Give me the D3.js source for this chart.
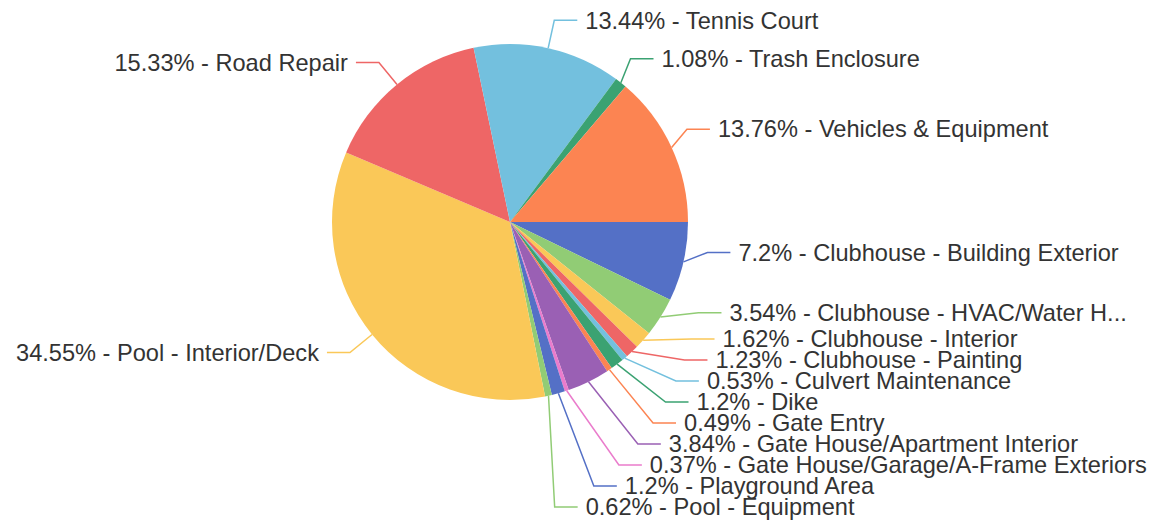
<!DOCTYPE html>
<html>
<head>
<meta charset="utf-8">
<script src="https://cdn.jsdelivr.net/npm/d3@7"></script>
<style>
  html, body { margin: 0; background: #fff; }
  svg { display: block; }
</style>
</head>
<body>
<div id="chart"></div>
<script>
var width = 1165;
var height = 523;

// budget share per category (percent)
const categories = [
    "Clubhouse - Building Exterior",
    "Clubhouse - HVAC/Water Heater",
    "Clubhouse - Interior",
    "Clubhouse - Painting",
    "Culvert Maintenance",
    "Dike",
    "Gate Entry",
    "Gate House/Apartment Interior",
    "Gate House/Garage/A-Frame Exteriors",
    "Playground Area",
    "Pool - Equipment",
    "Pool - Interior/Deck",
    "Road Repair",
    "Tennis Court",
    "Trash Enclosure",
    "Vehicles & Equipment"
];
const values = [7.2, 3.54, 1.62, 1.23, 0.53, 1.2, 0.49, 3.84, 0.37, 1.2, 0.62, 34.55, 15.33, 13.44, 1.08, 13.76];
const palette = ["#5470c6", "#91cc75", "#fac858", "#ee6666", "#73c0de", "#3ba272", "#fc8452", "#9a60b4", "#ea7ccc"];

const cx = 510, cy = 222, radius = 178;
const len1 = 28.5, len2 = 23, labelDist = 8, lineH = 21, bleed = 5;
const font = "23.6px 'Liberation Sans', Arial, sans-serif";

const data = categories.map((c, i) => ({name: c, value: values[i], color: palette[i % palette.length]}));
const total = d3.sum(values);

const pie = d3.pie()
    .sort(null)
    .value(d => d.value)
    .startAngle(Math.PI / 2)
    .endAngle(Math.PI / 2 + 2 * Math.PI);

const arc = d3.arc().innerRadius(0).outerRadius(radius);
const arcs = pie(data);

const svg = d3.select("#chart")
    .append("svg")
    .attr("width", width)
    .attr("height", height);

const g = svg.append("g").attr("transform", `translate(${cx},${cy})`);

g.selectAll("path.slice")
    .data(arcs)
    .join("path")
    .attr("class", "slice")
    .attr("d", arc)
    .attr("fill", d => d.data.color);

// measure with a hidden svg text so widths match what is drawn
const probe = svg.append("text")
    .style("font", font)
    .attr("visibility", "hidden");
const measure = t => probe.text(t).node().getComputedTextLength();

// initial label positions
const items = arcs.map(a => {
    const mid = (a.startAngle + a.endAngle) / 2;
    const sx = Math.sin(mid), sy = -Math.cos(mid);
    const dir = sx < 0 ? -1 : 1;
    const R = radius + len1;
    const x2 = cx + sx * R;
    const y2 = cy + sy * R;
    const pct = +(a.data.value / total * 100).toFixed(2);
    return {
        d: a,
        dir: dir,
        x1: cx + sx * radius,
        y1: cy + sy * radius,
        labelX: x2 + dir * (len2 + labelDist),
        y: y2,
        rectY: y2 - lineH / 2,
        text: `${pct}% - ${a.data.name}`
    };
});

function shiftLayout(list, minBound, maxBound) {
    const n = list.length;
    if (n < 2) return false;
    list.sort((a, b) => a.rectY - b.rectY);
    let lastPos = 0, adjusted = false;
    list.forEach(item => {
        const delta = item.rectY - lastPos;
        if (delta < 0) { item.rectY -= delta; adjusted = true; }
        lastPos = item.rectY + lineH;
    });
    const first = list[0], last = list[n - 1];
    let minGap, maxGap;
    const update = () => {
        minGap = first.rectY - minBound;
        maxGap = maxBound - last.rectY - lineH;
    };
    const shiftList = (delta, start, end) => {
        if (delta) adjusted = true;
        for (let i = start; i < end; i++) list[i].rectY += delta;
    };
    function squeezeGaps(delta, maxPct) {
        const gaps = [];
        let totalGaps = 0;
        for (let i = 1; i < n; i++) {
            const gap = Math.max(list[i].rectY - list[i - 1].rectY - lineH, 0);
            gaps.push(gap);
            totalGaps += gap;
        }
        if (!totalGaps) return;
        const pct = Math.min(Math.abs(delta) / totalGaps, maxPct);
        if (delta > 0) {
            for (let i = 0; i < n - 1; i++) shiftList(gaps[i] * pct, 0, i + 1);
        } else {
            for (let i = n - 1; i > 0; i--) shiftList(-gaps[i - 1] * pct, i, n);
        }
    }
    update();
    if (minGap < 0) squeezeGaps(-minGap, 0.8);
    if (maxGap < 0) squeezeGaps(maxGap, 0.8);
    update();
    if (minGap < 0 && maxGap > 0) shiftList(Math.min(maxGap, -minGap), 0, n);
    if (maxGap < 0 && minGap > 0) shiftList(-Math.min(minGap, -maxGap), 0, n);
    list.forEach(item => { item.y = item.rectY + lineH / 2; });
    return adjusted;
}

// put shifted labels back on an ellipse around the pie
function recalcX(list, dir) {
    const rA = radius + len1;
    const semis = [{list: [], maxY: 0, rB: rA}, {list: [], maxY: 0, rB: rA}];
    list.forEach(item => {
        const semi = item.y > cy ? semis[1] : semis[0];
        const dy = Math.abs(item.y - cy);
        if (dy >= semi.maxY) {
            const dx = item.labelX - cx - len2 * dir;
            semi.rB = Math.abs(dx) < rA ? Math.sqrt(dy * dy / (1 - dx * dx / (rA * rA))) : rA;
            semi.maxY = dy;
        }
        semi.list.push(item);
    });
    semis.forEach(semi => semi.list.forEach(item => {
        const dy = Math.abs(item.y - cy);
        const dx = Math.sqrt(Math.max(0, 1 - dy * dy / (semi.rB * semi.rB))) * rA;
        item.labelX = cx + (dx + len2) * dir;
    }));
}

// shorten a label that runs off the edge, then add an ellipsis
function truncate(text, avail) {
    const ell = "...";
    let w = measure(text);
    if (w <= avail) return text;
    const content = avail - measure(ell);
    const charW = measure("a");
    let t = text;
    for (let j = 0; j < 3 && w > content; j++) {
        let n;
        if (j === 0) {
            // first guess from an average character width
            let acc = 0;
            for (n = 0; n < t.length && acc < content; n++) acc += charW;
        } else {
            n = Math.floor(t.length * content / w);
        }
        t = t.slice(0, n);
        w = measure(t);
    }
    return t + ell;
}

[1, -1].forEach(dir => {
    const side = items.filter(it => it.dir === dir);
    if (shiftLayout(side, 0, height - 5.5)) recalcX(side, dir);
});

items.forEach(it => {
    const avail = it.dir > 0 ? width - bleed - it.labelX : it.labelX - bleed;
    it.text = truncate(it.text, avail);
    it.x3 = it.labelX - it.dir * labelDist;
    it.x2 = it.x3 - it.dir * len2;
});
probe.remove();

svg.append("g")
    .selectAll("path")
    .data(items)
    .join("path")
    .attr("d", it => `M${it.x1},${it.y1}L${it.x2},${it.y}L${it.x3},${it.y}`)
    .attr("fill", "none")
    .attr("stroke", it => it.d.data.color)
    .attr("stroke-width", 1.5);

svg.append("g")
    .selectAll("text")
    .data(items)
    .join("text")
    .attr("x", it => it.labelX)
    .attr("y", it => it.y)
    .attr("dy", "0.35em")
    .attr("text-anchor", it => it.dir > 0 ? "start" : "end")
    .style("font", font)
    .attr("fill", "#333")
    .text(it => it.text);
</script>
</body>
</html>
